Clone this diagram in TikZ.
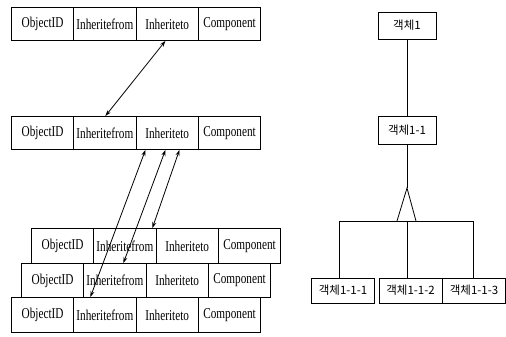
\documentclass[tikz,border=0pt]{standalone}
\usepackage{fontspec}
\usetikzlibrary{arrows.meta}
\newfontfamily\tabfont{Liberation Serif}[FakeStretch=0.75]
\newfontfamily\kfont{Noto Sans CJK KR}
\tikzset{
  cell/.style={draw, line width=0.9pt, minimum width=62.3pt, inner sep=0pt, anchor=north west,
    font=\tabfont\fontsize{15}{15}\selectfont},
  kbox/.style={draw, line width=0.9pt, inner sep=0pt, minimum height=26pt,
    font=\kfont\fontsize{11.5}{12}\selectfont},
  dar/.style={line width=0.8pt, {Stealth[length=6pt,width=4pt]}-{Stealth[length=6pt,width=4pt]}},
  tline/.style={line width=0.8pt}
}
\newcommand\tabrow[4]{%
  \foreach \t [count=\i] in {ObjectID,Inheritefrom,Inheriteto,Component} {
    \node[cell, minimum height=#4pt] (#1c\i) at ({#2+(\i-1)*62.3},#3) {\t};
  }}
\begin{document}
\begin{tikzpicture}[x=1pt,y=-1pt]
\useasboundingbox (0,0) rectangle (506,337);
% left tables
\tabrow{tT}{11}{7}{33}
\tabrow{tS}{11}{116}{33}
\tabrow{tA}{31}{228}{35}
\tabrow{tB}{21}{263}{34}
\tabrow{tC}{11}{297}{35}
% arrows
\draw[dar] ([xshift=-1.75pt]tTc3.south) -- ([xshift=0.5pt]tSc2.north);
\draw[dar] ([xshift=-21.75pt]tSc3.south) -- ([xshift=-14.5pt]tCc2.north);
\draw[dar] ([xshift=-1.75pt]tSc3.south) -- ([xshift=8.5pt]tBc2.north);
\draw[dar] ([xshift=12.25pt]tSc3.south) -- ([xshift=27.5pt]tAc2.north);
% right tree
\node[kbox, minimum width=58pt, minimum height=27pt] (k1) at (407,25.5) {객체1};
\node[kbox, minimum width=58pt, minimum height=28pt] (k11) at (407,130) {객체1-1};
\node[kbox, minimum width=63pt, minimum height=25pt] (k111) at (343,290.5) {객체1-1-1};
\node[kbox, minimum width=63pt, minimum height=25pt] (k112) at (410.5,290.5) {객체1-1-2};
\node[kbox, minimum width=63pt, minimum height=25pt] (k113) at (474,290.5) {객체1-1-3};
\coordinate (apex) at (407,188);
\coordinate (tl) at (397,221);
\coordinate (tr) at (416,221);
\coordinate (bl) at (339,221);
\coordinate (bm) at (407,221);
\coordinate (br) at (473,221);
\draw[tline] (k1) -- (k11);
\draw[tline] (k11) -- (apex);
\draw[tline] (tl) -- (apex) -- (tr);
\draw[tline] (bl) -- (br);
\draw[tline] (bl) -- (bl |- k111.north);
\draw[tline] (bm) -- (bm |- k112.north);
\draw[tline] (br) -- (br |- k113.north);
\end{tikzpicture}
\end{document}
